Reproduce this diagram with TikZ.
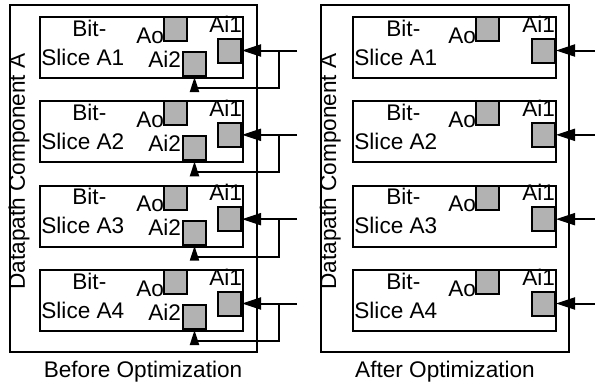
\documentclass[tikz,border=0pt]{standalone}
\usepackage{fontspec}
\setmainfont{Liberation Sans}
\usetikzlibrary{arrows.meta}

\begin{document}
\begin{tikzpicture}[x=0.5pt,y=-0.5pt,>={Triangle[length=9.5pt,width=6pt]},
    frame/.style={draw,line width=1pt,inner sep=0pt,anchor=north west,minimum height=173.5pt},
    slicebox/.style={draw,line width=1pt,minimum width=101.5pt,minimum height=30.5pt,inner sep=0pt,anchor=north west},
    port/.style={draw,line width=1pt,fill=black!30,minimum width=11.5pt,minimum height=12pt,inner sep=0pt},
    lbl/.style={inner sep=0pt,font=\fontsize{11.3}{13}\selectfont},
    wire/.style={line width=1pt},
    feed/.style={line width=1pt,-{Triangle[length=7.5pt,width=4.5pt]}}]
  \useasboundingbox (0,0) rectangle (595,387);

  % datapath components
  \node[frame,minimum width=123.5pt] (compB) at (9,4) {};
  \node[frame,minimum width=124pt] (compA) at (320,4) {};
  \node[lbl,rotate=90,anchor=base west] (titleB) at (25,290) {Datapath Component A};
  \node[lbl,rotate=90,anchor=base west] (titleA) at (336,290) {Datapath Component A};

  % before optimization: two inputs per slice
  \foreach \i/\t in {1/16,2/100.33,3/184.67,4/269}{
    \node[slicebox] (bs\i) at (39,\t) {};
    \node[port,anchor=north east] (bo\i) at (188,\t) {};
    \node[port,anchor=east] (bia\i) at (242,\t+34.5) {};
    \node[port,anchor=south east] (bib\i) at (207,\t+61) {};
    \node[lbl,anchor=base west] (bbit\i) at (72,\t+20) {Bit-};
    \node[lbl,anchor=base west] (bname\i) at (41,\t+49) {Slice A\i};
    \node[lbl,anchor=base west] (bao\i) at (136,\t+27) {Ao};
    \node[lbl,anchor=base west] (bai1\i) at (209,\t+16) {Ai1};
    \node[lbl,anchor=base west] (bai2\i) at (148,\t+51) {Ai2};
    \coordinate (bin\i) at (297,\t+34.5);
    \coordinate (bfork\i) at (279,\t+34.5);
    \draw[wire,->] (bin\i) -- (bia\i.east);
    \draw[feed] (bfork\i) -- ++(0,37.5) -| (bib\i.south);
  }

  % after optimization: one input per slice
  \foreach \i/\t in {1/16,2/100.33,3/184.67,4/269}{
    \node[slicebox] (as\i) at (352,\t) {};
    \node[port,anchor=north east] (ao\i) at (500,\t) {};
    \node[port,anchor=east] (aia\i) at (556,\t+34.5) {};
    \node[lbl,anchor=base west] (abit\i) at (386,\t+20) {Bit-};
    \node[lbl,anchor=base west] (aname\i) at (354,\t+49) {Slice A\i};
    \node[lbl,anchor=base west] (aao\i) at (448,\t+27) {Ao};
    \node[lbl,anchor=base west] (aai1\i) at (522,\t+16) {Ai1};
    \coordinate (ain\i) at (595,\t+34.5);
    \draw[wire,->] (ain\i) -- (aia\i.east);
  }

  % captions
  \node[lbl,anchor=base] (capB) at (143,377) {Before Optimization};
  \node[lbl,anchor=base] (capA) at (445,377) {After Optimization};
\end{tikzpicture}
\end{document}
